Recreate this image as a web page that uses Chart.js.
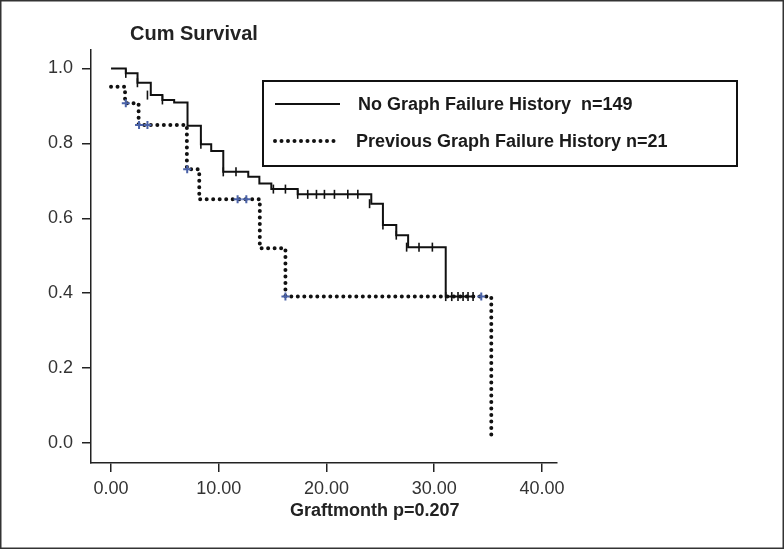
<!DOCTYPE html>
<html>
<head>
<meta charset="utf-8">
<script src="https://cdn.jsdelivr.net/npm/chart.js@4.4.1/dist/chart.umd.min.js"></script>
<style>
  html, body { margin: 0; padding: 0; background: #fff; }
</style>
</head>
<body>
<canvas id="km" width="784" height="549"></canvas>
<script>
// Tiempos (meses) y supervivencia acumulada
const noFailTimes = [0, 1.37, 2.46, 3.69, 4.77, 5.86, 7.10, 8.34, 9.30, 10.42, 12.74, 13.77, 14.88, 17.33, 24.16, 25.24, 26.48, 27.58, 31.07, 33.77];
const noFailSurv  = [1.0, 0.987, 0.962, 0.929, 0.916, 0.909, 0.847, 0.798, 0.780, 0.724, 0.711, 0.693, 0.678, 0.664, 0.639, 0.582, 0.555, 0.523, 0.391, 0.391];

// Censurados (marcas verticales) de la curva continua
const noFailCensTimes = [1.37, 2.45, 3.38, 4.77, 8.34, 10.42, 11.60, 15.07, 16.19, 17.33, 18.26, 19.07, 19.81, 20.74, 21.98, 22.91, 24.00, 25.24, 26.48, 27.44, 28.59, 29.83, 31.07, 31.63, 32.21, 32.68, 33.14, 33.61];
const noFailCensSurv  = [0.987, 0.962, 0.929, 0.916, 0.798, 0.724, 0.724, 0.678, 0.678, 0.664, 0.664, 0.664, 0.664, 0.664, 0.664, 0.664, 0.639, 0.582, 0.555, 0.523, 0.523, 0.523, 0.391, 0.391, 0.391, 0.391, 0.391, 0.391];

const prevFailTimes = [0, 1.30, 2.56, 7.04, 8.19, 13.81, 16.19, 35.30];
const prevFailSurv  = [0.951, 0.907, 0.849, 0.731, 0.651, 0.520, 0.391, 0.017];

// Censurados (cruces azules) de la curva punteada
const prevFailCensTimes = [1.37, 2.60, 3.38, 7.07, 11.75, 12.56, 16.19, 34.37];
const prevFailCensSurv  = [0.907, 0.849, 0.849, 0.731, 0.651, 0.651, 0.391, 0.391];

const xTicks = [0, 10, 20, 30, 40];
const yTicks = [0, 0.2, 0.4, 0.6, 0.8, 1.0];
const seriesLabels = ['No Graph Failure History  n=149', 'Previous Graph Failure History n=21'];
const chartTitle = 'Cum Survival';
const xTitle = 'Graftmonth p=0.207';

const FONT = '"Liberation Sans", Arial, Helvetica, sans-serif';

function toPoints(times, vals) {
  return times.map((t, i) => ({ x: t, y: vals[i] }));
}

// Dibuja marco, titulos y leyenda con recuadro
const decor = {
  id: 'decor',
  afterDraw(chart) {
    const ctx = chart.ctx;
    ctx.save();
    ctx.strokeStyle = '#333';
    ctx.lineWidth = 1.5;
    ctx.strokeRect(0.75, 0.75, chart.width - 1.5, chart.height - 1.5);

    ctx.fillStyle = '#222';
    ctx.textBaseline = 'alphabetic';
    ctx.textAlign = 'left';
    ctx.font = 'bold 20px ' + FONT;
    ctx.fillText(chartTitle, 130, 40);
    ctx.font = 'bold 18px ' + FONT;
    ctx.fillText(xTitle, 290, 516);

    // leyenda
    ctx.strokeStyle = '#111';
    ctx.lineWidth = 2;
    ctx.strokeRect(263, 81, 474, 85);
    const rows = chart.data.datasets.filter(d => d.inLegend);
    const rowY = [104, 141];
    const textX = [358, 356];
    rows.forEach((ds, i) => {
      ctx.save();
      ctx.strokeStyle = ds.borderColor;
      ctx.lineWidth = ds.borderWidth;
      ctx.lineCap = ds.borderCapStyle || 'butt';
      ctx.setLineDash(ds.borderDash || []);
      ctx.beginPath();
      ctx.moveTo(275, rowY[i]);
      ctx.lineTo(340, rowY[i]);
      ctx.stroke();
      ctx.restore();
      ctx.fillStyle = '#1a1a1a';
      ctx.font = 'bold 18px ' + FONT;
      ctx.fillText(ds.label, textX[i], rowY[i] + 6);
    });
    ctx.restore();
  }
};

const ctx = document.getElementById('km').getContext('2d');
new Chart(ctx, {
  type: 'line',
  data: {
    datasets: [
      {
        label: 'prev-cens',
        data: toPoints(prevFailCensTimes, prevFailCensSurv),
        showLine: false,
        pointStyle: 'cross',
        pointRadius: 4,
        pointBorderColor: '#4a62a8',
        pointBorderWidth: 2,
        order: 0
      },
      {
        label: 'nofail-cens',
        data: toPoints(noFailCensTimes, noFailCensSurv),
        showLine: false,
        pointStyle: 'line',
        rotation: 90,
        pointRadius: 4.5,
        pointBorderColor: '#111',
        pointBorderWidth: 1.6,
        order: 1
      },
      {
        label: seriesLabels[0],
        inLegend: true,
        data: toPoints(noFailTimes, noFailSurv),
        stepped: true,
        borderColor: '#111',
        borderWidth: 2,
        pointRadius: 0,
        fill: false,
        order: 2
      },
      {
        label: seriesLabels[1],
        inLegend: true,
        data: toPoints(prevFailTimes, prevFailSurv),
        stepped: true,
        borderColor: '#111',
        borderWidth: 4,
        borderDash: [0, 6.5],
        borderCapStyle: 'round',
        pointRadius: 0,
        fill: false,
        order: 3
      }
    ]
  },
  options: {
    responsive: false,
    animation: false,
    layout: { padding: { top: 50, right: 227, bottom: 0, left: 0 } },
    plugins: {
      legend: { display: false },
      tooltip: { enabled: false }
    },
    scales: {
      x: {
        type: 'linear',
        min: -1.86,
        max: 41.4,
        afterBuildTicks: s => { s.ticks = xTicks.map(v => ({ value: v })); },
        afterFit: s => { s.height = 86; },
        ticks: {
          callback: v => Number(v).toFixed(2),
          font: { size: 18, family: FONT },
          color: '#333',
          padding: 6,
          maxRotation: 0,
          autoSkip: false
        },
        grid: { drawOnChartArea: false, tickLength: 9, color: '#222', lineWidth: 1.5 },
        border: { color: '#222', width: 1.5 }
      },
      y: {
        min: -0.0534,
        max: 1.0494,
        afterBuildTicks: s => { s.ticks = yTicks.map(v => ({ value: v })); },
        afterFit: s => { s.width = 91; },
        ticks: {
          callback: v => Number(v).toFixed(1),
          font: { size: 18, family: FONT },
          color: '#333',
          padding: 9
        },
        grid: { drawOnChartArea: false, tickLength: 9, color: '#222', lineWidth: 1.5 },
        border: { color: '#222', width: 1.5 }
      }
    }
  },
  plugins: [decor]
});
</script>
</body>
</html>
